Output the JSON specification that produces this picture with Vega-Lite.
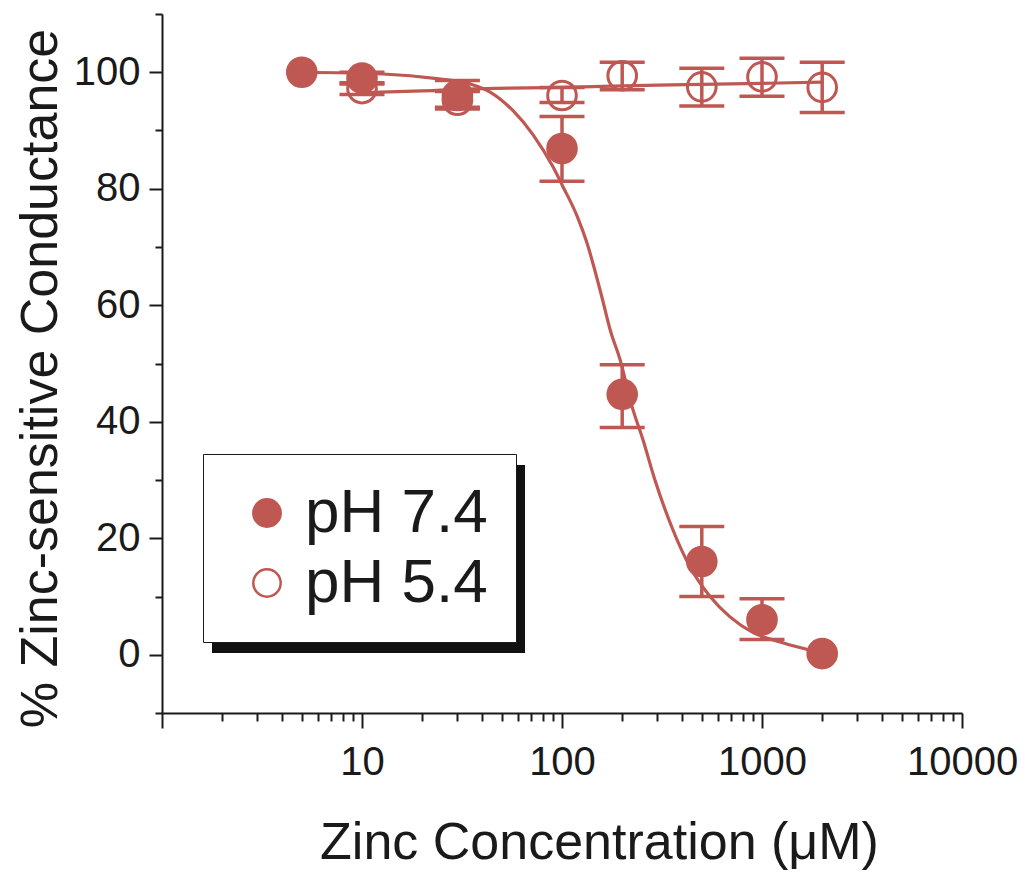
{
  "$schema": "https://vega.github.io/schema/vega-lite/v6.json",
  "width": 800,
  "height": 699,
  "autosize": {"type": "none"},
  "padding": {"left": 162, "top": 14, "right": 63, "bottom": 159},
  "background": "white",
  "config": {
    "view": {"stroke": null},
    "font": "Liberation Sans",
    "axis": {"grid": false, "domainColor": "#1a1a1a", "tickColor": "#1a1a1a", "labelColor": "#1a1a1a", "titleColor": "#1a1a1a", "labelFont": "Liberation Sans", "titleFont": "Liberation Sans", "titleFontWeight": "normal", "domainWidth": 2, "tickWidth": 2}
  },
  "datasets": {
    "points": [
      {"conc": 5, "pct": 100, "series": "pH 7.4"},
      {"conc": 10, "pct": 99.0, "lo": 98.0, "hi": 100.0, "series": "pH 7.4"},
      {"conc": 30, "pct": 96.0, "lo": 94.0, "hi": 98.6, "series": "pH 7.4"},
      {"conc": 100, "pct": 86.9, "lo": 81.3, "hi": 92.4, "series": "pH 7.4"},
      {"conc": 200, "pct": 44.7, "lo": 39.0, "hi": 49.8, "series": "pH 7.4"},
      {"conc": 500, "pct": 16.0, "lo": 10.0, "hi": 22.0, "series": "pH 7.4"},
      {"conc": 1000, "pct": 6.0, "lo": 2.6, "hi": 9.6, "series": "pH 7.4"},
      {"conc": 2000, "pct": 0.2, "series": "pH 7.4"},
      {"conc": 10, "pct": 97.2, "lo": 96.2, "hi": 98.2, "series": "pH 5.4"},
      {"conc": 30, "pct": 95.2, "lo": 93.7, "hi": 96.7, "series": "pH 5.4"},
      {"conc": 100, "pct": 96.0, "lo": 94.8, "hi": 97.4, "series": "pH 5.4"},
      {"conc": 200, "pct": 99.4, "lo": 97.0, "hi": 101.7, "series": "pH 5.4"},
      {"conc": 500, "pct": 97.5, "lo": 94.2, "hi": 100.7, "series": "pH 5.4"},
      {"conc": 1000, "pct": 99.2, "lo": 95.9, "hi": 102.4, "series": "pH 5.4"},
      {"conc": 2000, "pct": 97.4, "lo": 93.1, "hi": 101.7, "series": "pH 5.4"}
    ],
    "curve": [
      {"conc": 5.0, "pct": 100.0, "series": "pH 7.4"},
      {"conc": 12.7, "pct": 99.7, "series": "pH 7.4"},
      {"conc": 23.7, "pct": 98.9, "series": "pH 7.4"},
      {"conc": 34.7, "pct": 98.0, "series": "pH 7.4"},
      {"conc": 43.7, "pct": 96.6, "series": "pH 7.4"},
      {"conc": 56.9, "pct": 93.4, "series": "pH 7.4"},
      {"conc": 71.6, "pct": 89.3, "series": "pH 7.4"},
      {"conc": 90, "pct": 83.8, "series": "pH 7.4"},
      {"conc": 101, "pct": 80.4, "series": "pH 7.4"},
      {"conc": 119, "pct": 75.3, "series": "pH 7.4"},
      {"conc": 133, "pct": 70.8, "series": "pH 7.4"},
      {"conc": 158, "pct": 61.5, "series": "pH 7.4"},
      {"conc": 174, "pct": 55.8, "series": "pH 7.4"},
      {"conc": 195, "pct": 50.7, "series": "pH 7.4"},
      {"conc": 224, "pct": 42.6, "series": "pH 7.4"},
      {"conc": 254, "pct": 36.9, "series": "pH 7.4"},
      {"conc": 291, "pct": 30.1, "series": "pH 7.4"},
      {"conc": 358, "pct": 21.5, "series": "pH 7.4"},
      {"conc": 436, "pct": 15.1, "series": "pH 7.4"},
      {"conc": 550, "pct": 10.0, "series": "pH 7.4"},
      {"conc": 692, "pct": 6.5, "series": "pH 7.4"},
      {"conc": 903, "pct": 3.8, "series": "pH 7.4"},
      {"conc": 1233, "pct": 2.2, "series": "pH 7.4"},
      {"conc": 1679, "pct": 0.9, "series": "pH 7.4"},
      {"conc": 1950, "pct": 0.3, "series": "pH 7.4"},
      {"conc": 10, "pct": 96.5, "series": "pH 5.4"},
      {"conc": 20, "pct": 96.8, "series": "pH 5.4"},
      {"conc": 40, "pct": 97.2, "series": "pH 5.4"},
      {"conc": 100, "pct": 97.4, "series": "pH 5.4"},
      {"conc": 300, "pct": 97.8, "series": "pH 5.4"},
      {"conc": 1000, "pct": 98.1, "series": "pH 5.4"},
      {"conc": 2000, "pct": 98.3, "series": "pH 5.4"}
    ]
  },
  "resolve": {"axis": {"x": "independent", "y": "independent"}},
  "layer": [
    {
      "data": {"name": "curve"},
      "mark": {"type": "line", "color": "#bf5852", "strokeWidth": 3.2, "opacity": 1, "interpolate": "monotone"},
      "encoding": {
        "x": {"field": "conc", "type": "quantitative", "scale": {"type": "log", "domain": [1, 10000], "nice": false},
          "axis": {"orient": "bottom", "values": [1, 10, 100, 1000, 10000], "format": "d", "labelExpr": "datum.value == 1 ? '' : datum.label", "tickSize": 15, "labelFontSize": 40, "labelBaseline": "alphabetic", "labelPadding": 46, "labelFlush": false, "labelOverlap": false,
            "title": "Zinc Concentration (μM)", "titleFontSize": 52, "titleX": 437, "titleY": 145, "titleBaseline": "alphabetic", "titleAlign": "center", "titleAnchor": null}},
        "y": {"field": "pct", "type": "quantitative", "scale": {"domain": [-10, 110], "nice": false, "zero": false},
          "axis": {"orient": "left", "values": [0, 20, 40, 60, 80, 100], "tickSize": 13, "labelFontSize": 40, "labelPadding": 9,
            "title": "% Zinc-sensitive Conductance", "titleFontSize": 52, "titleX": -106, "titleY": 364, "titleBaseline": "alphabetic", "titleAlign": "center", "titleAngle": 270, "titleAnchor": null}},
        "detail": {"field": "series"}
      }
    },
    {
      "data": {"name": "points"},
      "transform": [{"filter": "datum.lo != null"}],
      "mark": {"type": "rule", "color": "#bf5852", "strokeWidth": 3.5, "opacity": 1},
      "encoding": {
        "x": {"field": "conc", "type": "quantitative", "scale": {"type": "log", "domain": [1, 10000], "nice": false},
          "axis": {"orient": "bottom", "values": [2,3,4,5,6,7,8,9,20,30,40,50,60,70,80,90,200,300,400,500,600,700,800,900,2000,3000,4000,5000,6000,7000,8000,9000], "tickSize": 8, "labels": false, "domain": false, "title": null}},
        "y": {"field": "lo", "type": "quantitative", "scale": {"domain": [-10, 110], "nice": false, "zero": false},
          "axis": {"orient": "left", "values": [-10, 10, 30, 50, 70, 90, 110], "tickSize": 7, "labels": false, "domain": false, "title": null}},
        "y2": {"field": "hi"}
      }
    },
    {
      "data": {"name": "points"},
      "transform": [{"filter": "datum.lo != null"}],
      "mark": {"type": "tick", "orient": "horizontal", "color": "#bf5852", "size": 45, "thickness": 3.5, "opacity": 1},
      "encoding": {
        "x": {"field": "conc", "type": "quantitative", "scale": {"type": "log", "domain": [1, 10000], "nice": false}, "axis": null},
        "y": {"field": "lo", "type": "quantitative", "scale": {"domain": [-10, 110], "nice": false, "zero": false}, "axis": null}
      }
    },
    {
      "data": {"name": "points"},
      "transform": [{"filter": "datum.hi != null"}],
      "mark": {"type": "tick", "orient": "horizontal", "color": "#bf5852", "size": 45, "thickness": 3.5, "opacity": 1},
      "encoding": {
        "x": {"field": "conc", "type": "quantitative", "scale": {"type": "log", "domain": [1, 10000], "nice": false}, "axis": null},
        "y": {"field": "hi", "type": "quantitative", "scale": {"domain": [-10, 110], "nice": false, "zero": false}, "axis": null}
      }
    },
    {
      "data": {"name": "points"},
      "mark": {"type": "point", "shape": "circle", "filled": true, "size": 820, "stroke": "#bf5852", "strokeWidth": 3},
      "encoding": {
        "x": {"field": "conc", "type": "quantitative", "scale": {"type": "log", "domain": [1, 10000], "nice": false}, "axis": null},
        "y": {"field": "pct", "type": "quantitative", "scale": {"domain": [-10, 110], "nice": false, "zero": false}, "axis": null},
        "fill": {"field": "series", "type": "nominal", "scale": {"domain": ["pH 7.4", "pH 5.4"], "range": ["#bf5852", "transparent"]},
          "legend": {"title": null, "orient": "none", "legendX": 41, "legendY": 440, "direction": "vertical", "fillColor": "white", "strokeColor": "#1a1a1a", "padding": 28, "labelFont": "Liberation Sans", "labelFontSize": 62, "labelColor": "#1a1a1a", "labelLimit": 500, "symbolType": "circle", "symbolSize": 750, "symbolOpacity": 1, "symbolStrokeWidth": 2.5, "symbolStrokeColor": "#bf5852", "symbolOffset": 5, "labelOffset": 7, "rowPadding": 8, "zindex": 2}},
        "opacity": {"field": "series", "type": "nominal", "scale": {"range": [1, 1]},
          "legend": {"title": null, "orient": "none", "legendX": 50, "legendY": 451, "direction": "vertical", "values": ["pH 7.4"], "padding": 0, "labelFontSize": 1, "labelExpr": "''", "labelOffset": 0, "rowPadding": 0, "symbolType": "M-1,-1H1V0.2013H-1Z", "symbolSize": 97969, "symbolOpacity": 1, "symbolFillColor": "#111111", "symbolStrokeColor": "#111111", "symbolStrokeWidth": 0, "zindex": 1}}
      }
    }
  ]
}
